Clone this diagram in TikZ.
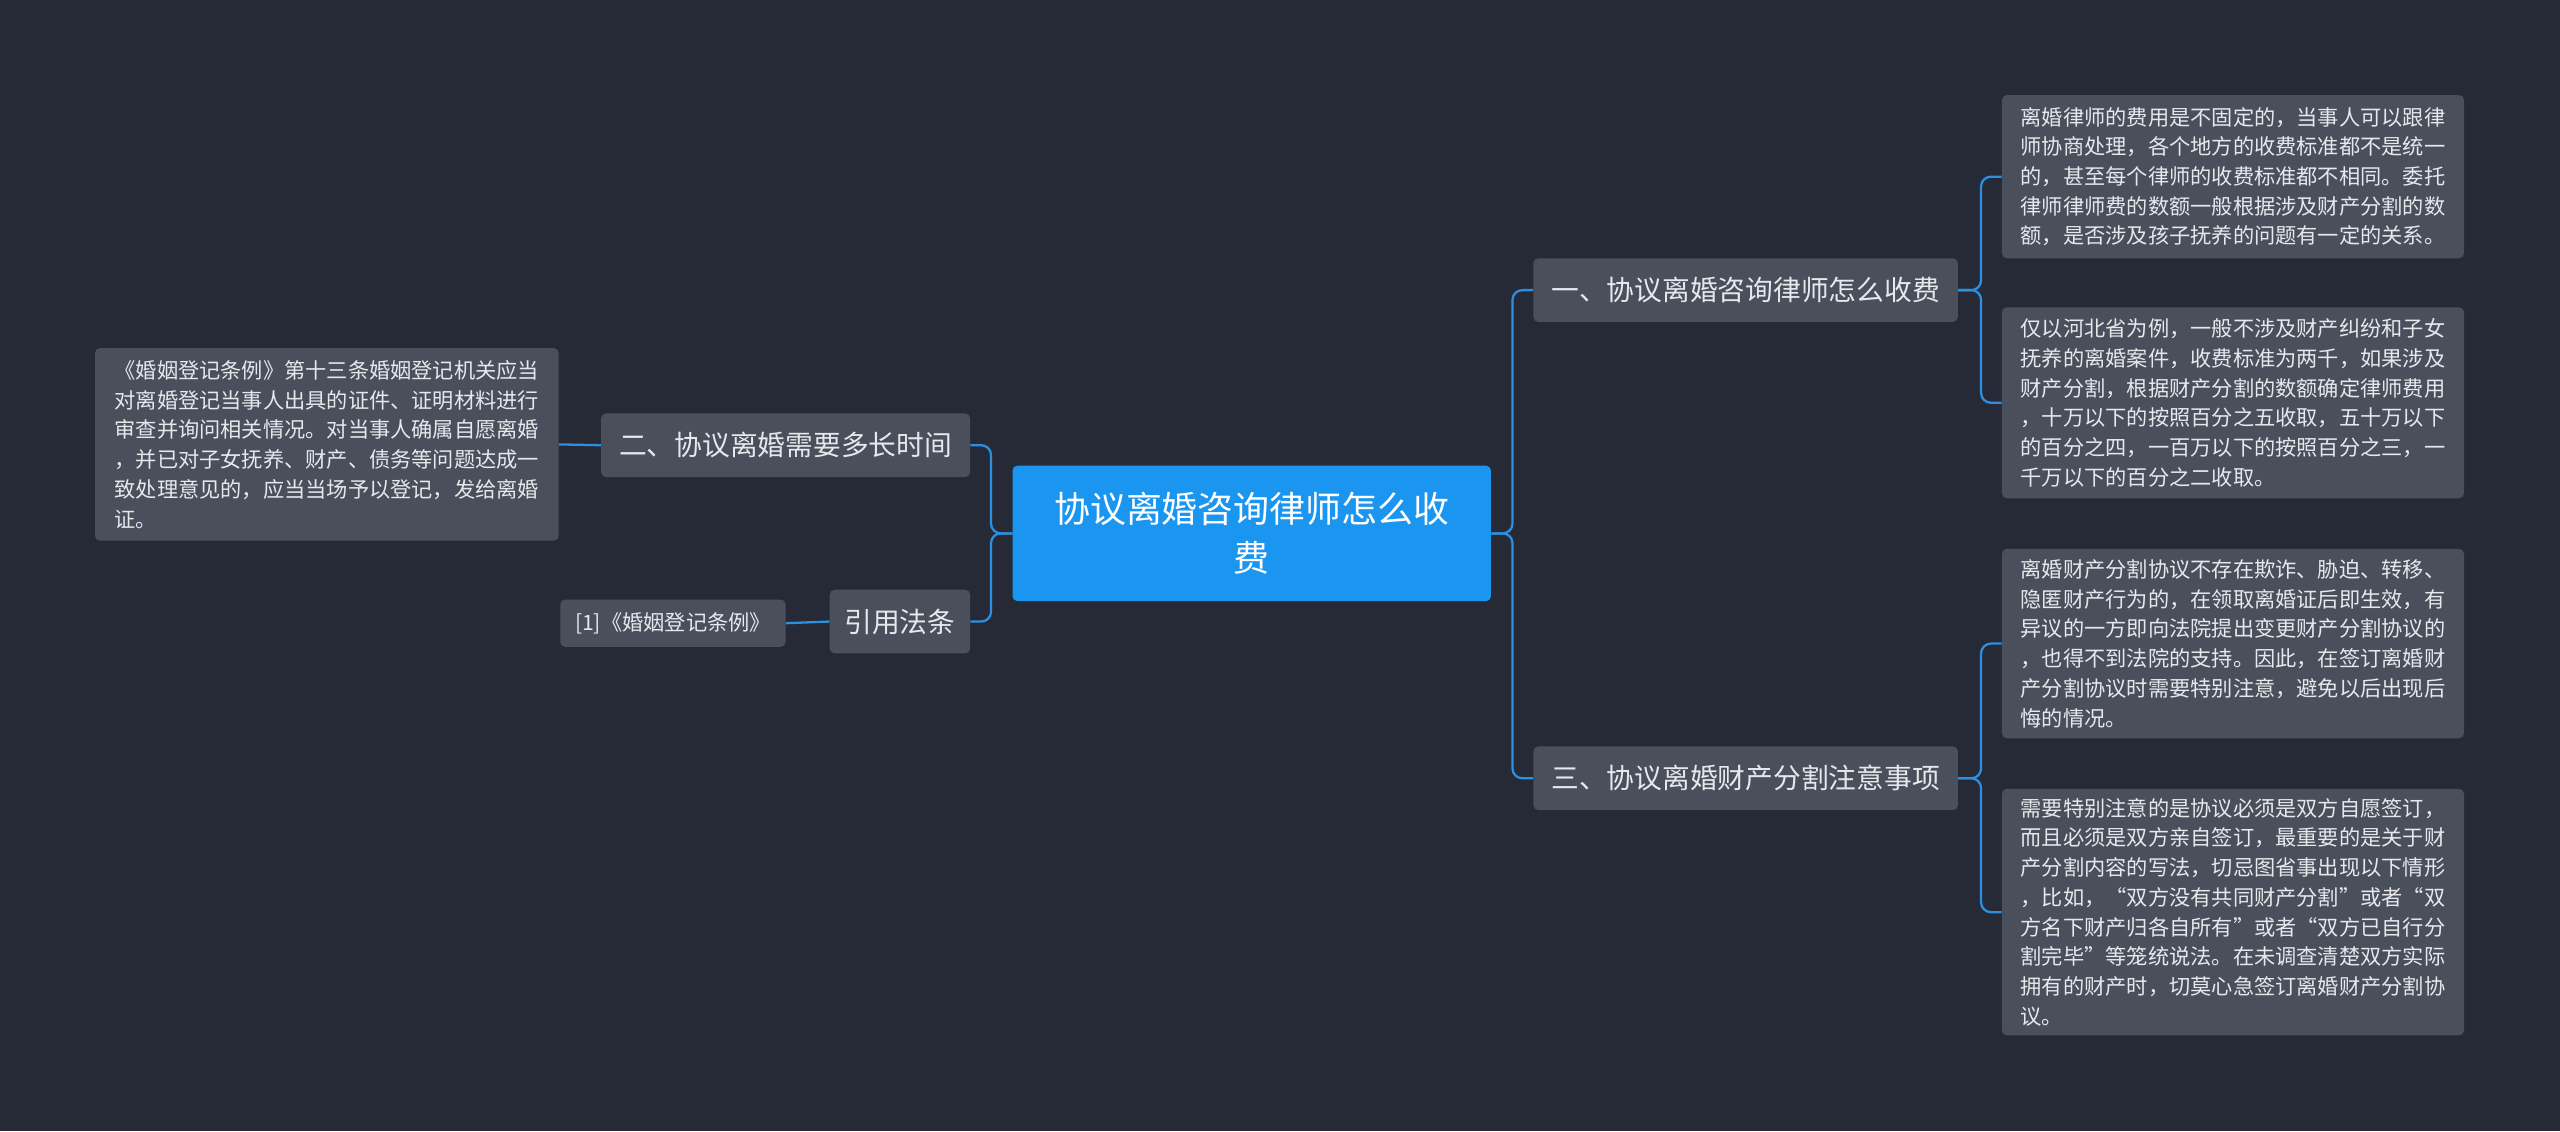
\documentclass[tikz,border=0pt]{standalone}
\usepackage{fontspec}
\setmainfont{Noto Sans CJK SC}
\definecolor{bgcol}{HTML}{252A36}
\definecolor{boxcol}{HTML}{4A4F5C}
\definecolor{maincol}{HTML}{1A96F0}
\definecolor{linecol}{HTML}{2D8FE0}
\definecolor{txtcol}{HTML}{E6E8EC}
\tikzset{
  topic/.style={fill=boxcol, rounded corners=3pt, text=txtcol, font=\fontsize{17}{20}\selectfont, inner sep=0pt, anchor=north west},
  leaf/.style={fill=boxcol, rounded corners=3pt, text=txtcol, font=\fontsize{13}{18.2}\selectfont, align=left, inner xsep=6pt, inner ysep=0pt, anchor=north west},
  link/.style={linecol, line width=1.4pt, rounded corners=6pt}
}
\begin{document}
\begin{tikzpicture}[x=1pt, y=-1pt]
  \fill[bgcol] (0,0) rectangle (1568,693);
  \useasboundingbox (0,0) rectangle (1568,693);
  % center
  \node[fill=maincol, rounded corners=3pt, text=white, align=center, minimum width=293pt, minimum height=83pt, font=\fontsize{22}{30}\selectfont, anchor=north west] (root) at (620,285) {协议离婚咨询律师怎么收\\费};
  % topics
  \node[topic, minimum width=260pt, minimum height=39pt] (fee) at (939,158) {一、协议离婚咨询律师怎么收费};
  \node[topic, minimum width=260pt, minimum height=39pt] (split) at (939,457) {三、协议离婚财产分割注意事项};
  \node[topic, minimum width=226pt, minimum height=39pt] (time) at (368,253) {二、协议离婚需要多长时间};
  \node[topic, minimum width=86pt, minimum height=39pt] (law) at (508,361) {引用法条};
  % leaves
  \node[leaf, minimum width=283pt, minimum height=100pt] (feeA) at (1226,58) {离婚律师的费用是不固定的，当事人可以跟律\\师协商处理，各个地方的收费标准都不是统一\\的，甚至每个律师的收费标准都不相同。委托\\律师律师费的数额一般根据涉及财产分割的数\\额，是否涉及孩子抚养的问题有一定的关系。};
  \node[leaf, minimum width=283pt, minimum height=117pt] (feeB) at (1226,188) {仅以河北省为例，一般不涉及财产纠纷和子女\\抚养的离婚案件，收费标准为两千，如果涉及\\财产分割，根据财产分割的数额确定律师费用\\，十万以下的按照百分之五收取，五十万以下\\的百分之四，一百万以下的按照百分之三，一\\千万以下的百分之二收取。};
  \node[leaf, minimum width=283pt, minimum height=116pt] (splitA) at (1226,336) {离婚财产分割协议不存在欺诈、胁迫、转移、\\隐匿财产行为的，在领取离婚证后即生效，有\\异议的一方即向法院提出变更财产分割协议的\\，也得不到法院的支持。因此，在签订离婚财\\产分割协议时需要特别注意，避免以后出现后\\悔的情况。};
  \node[leaf, minimum width=283pt, minimum height=151pt] (splitB) at (1226,483) {需要特别注意的是协议必须是双方自愿签订，\\而且必须是双方亲自签订，最重要的是关于财\\产分割内容的写法，切忌图省事出现以下情形\\，比如，“双方没有共同财产分割”或者“双\\方名下财产归各自所有”或者“双方已自行分\\割完毕”等笼统说法。在未调查清楚双方实际\\拥有的财产时，切莫心急签订离婚财产分割协\\议。};
  \node[leaf, minimum width=284pt, minimum height=118pt] (timeA) at (58,213) {《婚姻登记条例》第十三条婚姻登记机关应当\\对离婚登记当事人出具的证件、证明材料进行\\审查并询问相关情况。对当事人确属自愿离婚\\，并已对子女抚养、财产、债务等问题达成一\\致处理意见的，应当当场予以登记，发给离婚\\证。};
  \node[leaf, minimum width=138pt, minimum height=29pt] (lawA) at (343,367) {[1]《婚姻登记条例》};
  % links
  \draw[link] (root.east) -- ++(13,0) |- (fee.west);
  \draw[link] (root.east) -- ++(13,0) |- (split.west);
  \draw[link] (root.west) -- ++(-13,0) |- (time.east);
  \draw[link] (root.west) -- ++(-13,0) |- (law.east);
  \draw[link] (fee.east) -- ++(14,0) |- (feeA.west);
  \draw[link] (fee.east) -- ++(14,0) |- (feeB.west);
  \draw[link] (split.east) -- ++(14,0) |- (splitA.west);
  \draw[link] (split.east) -- ++(14,0) |- (splitB.west);
  \draw[link] (time.west) -- (timeA.east);
  \draw[link] (law.west) -- (lawA.east);
\end{tikzpicture}
\end{document}
